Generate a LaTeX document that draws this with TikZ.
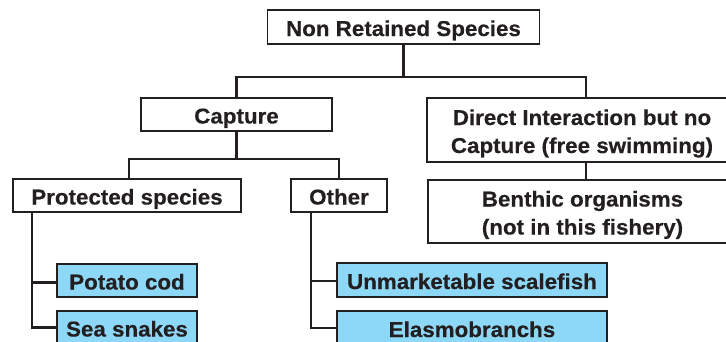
\documentclass[tikz,border=0pt]{standalone}
\usepackage{fontspec}
\newfontfamily\labfont[FakeStretch=1.04,FakeBold=0.4]{Liberation Sans}
\definecolor{ink}{RGB}{35,31,32}
\definecolor{leafblue}{RGB}{141,216,246}
\begin{document}
\begin{tikzpicture}[x=1pt,y=-1pt,
  box/.style={draw=ink, line width=1.4pt, fill=white, inner sep=0pt,
    align=center, text=ink, text height=18pt, text depth=0pt,
    font=\labfont\bfseries\fontsize{21.5}{28}\selectfont},
  twoline/.style={box, text height=46pt},
  leaf/.style={box, fill=leafblue},
  conn/.style={draw=ink, line width=2.2pt}]
\useasboundingbox (0,0) rectangle (726,341);
\clip (0,0) rectangle (726,341);
\fill[white] (0,0) rectangle (726,341);
% boxes
\node[box, minimum width=272pt, minimum height=34pt] (nrs) at (403.5,27) {Non Retained Species};
\node[box, minimum width=191pt, minimum height=33pt] (cap) at (236.5,114.5) {Capture};
\node[twoline, minimum width=310pt, minimum height=64pt] (dic) at (582,130) {Direct Interaction but no\\Capture (free swimming)};
\node[box, minimum width=228pt, minimum height=33pt] (prot) at (127,195.5) {Protected species};
\node[box, minimum width=96pt, minimum height=33pt] (oth) at (339,195.5) {Other};
\node[twoline, minimum width=309pt, minimum height=63pt] (ben) at (582.5,211.5) {Benthic organisms\\(not in this fishery)};
\node[leaf, minimum width=140pt, minimum height=33pt] (pot) at (127,280.5) {Potato cod};
\node[leaf, minimum width=140pt, minimum height=33pt] (sea) at (127,327.5) {Sea snakes};
\node[leaf, minimum width=270pt, minimum height=34pt] (unm) at (472,280) {Unmarketable scalefish};
\node[leaf, minimum width=270pt, minimum height=34pt] (ela) at (472,328) {Elasmobranchs};
% connectors
\coordinate (h1) at (nrs.south |- 0,77);
\draw[conn] (nrs.south) -- (h1);
\draw[conn] (cap.north) |- (h1) -| ([xshift=4pt]dic.north);
\coordinate (h2) at (cap.south |- 0,159);
\draw[conn] (cap.south) -- (h2);
\draw[conn] ([xshift=2pt]prot.north) |- (h2) -| (oth.north);
\draw[conn] ([xshift=4pt]dic.south) -- ([xshift=4pt]dic.south |- ben.north);
\draw[conn] ([xshift=20pt]prot.south west) |- ([yshift=-2pt]pot.west);
\draw[conn] ([xshift=20pt]prot.south west) |- (sea.west);
\draw[conn] ([xshift=21pt]oth.south west) |- ([yshift=-1pt]unm.west);
\draw[conn] ([xshift=21pt]oth.south west) |- (ela.west);
\end{tikzpicture}
\end{document}
